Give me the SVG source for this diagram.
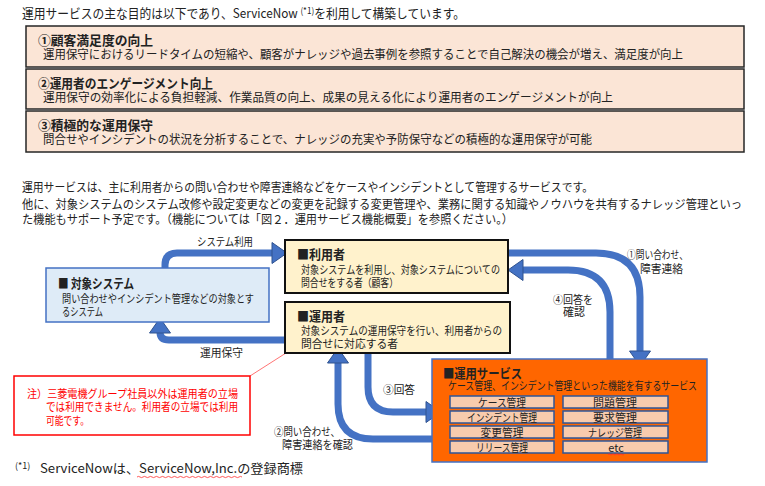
<svg xmlns="http://www.w3.org/2000/svg" width="765" height="486" viewBox="0 0 765 486">
<style>
text{font-family:"Noto Sans CJK JP","Noto Sans",sans-serif;fill:#222}
.t13{font-size:13px}
.t12{font-size:12px}
.t11{font-size:11px}
.b{font-weight:bold}
.goal{fill:#FBE5D6;stroke:#262626;stroke-width:1.5}
.person{fill:#FFF2CC;stroke:#111;stroke-width:2}
.sys{fill:#DEEBF7;stroke:#4472C4;stroke-width:1.5}
.svc{fill:#FF6600;stroke:#4472C4;stroke-width:1.5}
.cell{fill:#F8CBAD;stroke:#2F5597;stroke-width:1.5}
.note{fill:#fff;stroke:#FF0000;stroke-width:1.5}
.red{fill:#FF0000}
.conn{fill:none;stroke:#4472C4;stroke-width:7;marker-end:url(#ah)}
.wave{fill:none;stroke:#FF3030;stroke-width:0.8}
.c{text-anchor:middle}
</style>
<defs>
<marker id="ah" markerUnits="userSpaceOnUse" orient="auto" refX="0" refY="0" markerWidth="20" markerHeight="26" overflow="visible">
<path d="M-1,-10.5 L14,0 L-1,10.5 Z" fill="#4472C4" stroke="#2F528F" stroke-width="1"/>
</marker>
</defs>

<g id="intro">
<text class="t13" x="22" y="18" textLength="443" lengthAdjust="spacingAndGlyphs">運用サービスの主な目的は以下であり、ServiceNow <tspan dy="-4" style="font-size:9px">(*1)</tspan><tspan dy="4">を利用して構築しています。</tspan></text>
</g>

<g id="goal1">
<rect class="goal" x="26" y="26" width="718" height="41"/>
<text class="t13 b" x="38" y="45" textLength="115" lengthAdjust="spacingAndGlyphs">①顧客満足度の向上</text>
<text class="t12" x="43" y="58.5" textLength="640" lengthAdjust="spacingAndGlyphs">運用保守におけるリードタイムの短縮や、顧客がナレッジや過去事例を参照することで自己解決の機会が増え、満足度が向上</text>
</g>
<g id="goal2">
<rect class="goal" x="26" y="69" width="718" height="40"/>
<text class="t13 b" x="38" y="87.5" textLength="175" lengthAdjust="spacingAndGlyphs">②運用者のエンゲージメント向上</text>
<text class="t12" x="43" y="101.5" textLength="570" lengthAdjust="spacingAndGlyphs">運用保守の効率化による負担軽減、作業品質の向上、成果の見える化により運用者のエンゲージメントが向上</text>
</g>
<g id="goal3">
<rect class="goal" x="26" y="111" width="718" height="41"/>
<text class="t13 b" x="38" y="130" textLength="115" lengthAdjust="spacingAndGlyphs">③積極的な運用保守</text>
<text class="t12" x="43" y="144" textLength="549" lengthAdjust="spacingAndGlyphs">問合せやインシデントの状況を分析することで、ナレッジの充実や予防保守などの積極的な運用保守が可能</text>
</g>

<g id="paragraph">
<text class="t12" x="22" y="192" textLength="571" lengthAdjust="spacingAndGlyphs">運用サービスは、主に利用者からの問い合わせや障害連絡などをケースやインシデントとして管理するサービスです。</text>
<text class="t12" x="22" y="209" textLength="720" lengthAdjust="spacingAndGlyphs">他に、対象システムのシステム改修や設定変更などの変更を記録する変更管理や、業務に関する知識やノウハウを共有するナレッジ管理といっ</text>
<text class="t12" x="22" y="224" textLength="491" lengthAdjust="spacingAndGlyphs">た機能もサポート予定です。（機能については「図２．運用サービス機能概要」を参照ください。）</text>
</g>

<g id="connectors">
<path class="conn" d="M165,268 V265 Q165,253 177,253 H273"/>
<path class="conn" d="M285,340 H169 Q160,340 160,332"/>
<path class="conn" d="M508,253 H596 Q640,253 640,297 V352"/>
<path class="conn" d="M610,362 V312 Q610,270 568,270 H522"/>
<path class="conn" d="M368,353 V387 Q368,412 393,412 H427"/>
<path class="conn" d="M433,439 H373 Q338,439 338,404 V362"/>
<line x1="286" y1="353" x2="250" y2="376" stroke="#FF5050" stroke-width="0.8"/>
</g>

<g id="labels">
<text class="t11 c" x="225" y="246" textLength="56" lengthAdjust="spacingAndGlyphs">システム利用</text>
<text class="t11" x="200" y="357" textLength="43" lengthAdjust="spacingAndGlyphs">運用保守</text>
<text class="t11" x="627" y="259" textLength="61" lengthAdjust="spacingAndGlyphs">①問い合わせ、</text>
<text class="t11" x="640" y="273" textLength="43" lengthAdjust="spacingAndGlyphs">障害連絡</text>
<text class="t11" x="553" y="304" textLength="40" lengthAdjust="spacingAndGlyphs">④回答を</text>
<text class="t11" x="563" y="316" textLength="22" lengthAdjust="spacingAndGlyphs">確認</text>
<text class="t11" x="383" y="394" textLength="32" lengthAdjust="spacingAndGlyphs">③回答</text>
<text class="t11" x="274" y="436" textLength="66" lengthAdjust="spacingAndGlyphs">②問い合わせ、</text>
<text class="t11" x="282" y="449" textLength="71" lengthAdjust="spacingAndGlyphs">障害連絡を確認</text>
</g>

<g id="target-system">
<rect class="sys" x="46" y="268" width="223" height="54"/>
<text class="t13 b" x="58" y="288" textLength="76" lengthAdjust="spacingAndGlyphs">■ 対象システム</text>
<text class="t11" x="62" y="302.5" textLength="192" lengthAdjust="spacingAndGlyphs">問い合わせやインシデント管理などの対象とす</text>
<text class="t11" x="62" y="316" textLength="41" lengthAdjust="spacingAndGlyphs">るシステム</text>
</g>

<g id="user">
<rect class="person" x="285" y="240" width="223" height="53"/>
<text class="t13 b" x="297" y="259" textLength="48" lengthAdjust="spacingAndGlyphs">■利用者</text>
<text class="t11" x="301" y="273.5" textLength="199" lengthAdjust="spacingAndGlyphs">対象システムを利用し、対象システムについての</text>
<text class="t11" x="301" y="287" textLength="97" lengthAdjust="spacingAndGlyphs">問合せをする者（顧客）</text>
</g>

<g id="operator">
<rect class="person" x="285" y="302" width="225" height="51"/>
<text class="t13 b" x="297" y="321" textLength="48" lengthAdjust="spacingAndGlyphs">■運用者</text>
<text class="t11" x="301" y="334.5" textLength="201" lengthAdjust="spacingAndGlyphs">対象システムの運用保守を行い、利用者からの</text>
<text class="t11" x="301" y="347.5" textLength="97" lengthAdjust="spacingAndGlyphs">問合せに対応する者</text>
</g>

<g id="service">
<rect class="svc" x="432" y="359" width="275" height="103"/>
<text class="t13 b" x="443" y="377.5" textLength="79" lengthAdjust="spacingAndGlyphs">■運用サービス</text>
<text class="t11" x="448" y="390" textLength="249" lengthAdjust="spacingAndGlyphs">ケース管理、インシデント管理といった機能を有するサービス</text>
<rect class="cell" x="450" y="396" width="104" height="12"/>
<rect class="cell" x="563" y="396" width="105" height="12"/>
<rect class="cell" x="450" y="411" width="104" height="12"/>
<rect class="cell" x="563" y="411" width="105" height="12"/>
<rect class="cell" x="450" y="426" width="104" height="12"/>
<rect class="cell" x="563" y="426" width="105" height="12"/>
<rect class="cell" x="450" y="441" width="104" height="12"/>
<rect class="cell" x="563" y="441" width="105" height="12"/>
<text class="t11 c" x="502" y="406.5" textLength="48" lengthAdjust="spacingAndGlyphs">ケース管理</text>
<text class="t11 c" x="615" y="406.5" textLength="44" lengthAdjust="spacingAndGlyphs">問題管理</text>
<text class="t11 c" x="502" y="421.5" textLength="70" lengthAdjust="spacingAndGlyphs">インシデント管理</text>
<text class="t11 c" x="615" y="421.5" textLength="44" lengthAdjust="spacingAndGlyphs">要求管理</text>
<text class="t11 c" x="502" y="436.5" textLength="43" lengthAdjust="spacingAndGlyphs">変更管理</text>
<text class="t11 c" x="615" y="436.5" textLength="54" lengthAdjust="spacingAndGlyphs">ナレッジ管理</text>
<text class="t11 c" x="502" y="451.5" textLength="52" lengthAdjust="spacingAndGlyphs">リリース管理</text>
<text class="t11 c" x="616" y="451.5">etc</text>
<path class="wave" d="M608,454.5 q1,-1 2,0 t2,0 t2,0 t2,0 t2,0 t2,0 t2,0 t2,0"/>
</g>

<g id="note">
<rect class="note" x="14" y="376" width="236" height="59"/>
<text class="t11 red" x="27" y="397.5" textLength="211" lengthAdjust="spacingAndGlyphs">注）三菱電機グループ社員以外は運用者の立場</text>
<text class="t11 red" x="46" y="411" textLength="192" lengthAdjust="spacingAndGlyphs">では利用できません。利用者の立場では利用</text>
<text class="t11 red" x="46" y="424.5" textLength="43" lengthAdjust="spacingAndGlyphs">可能です。</text>
</g>

<g id="footnote">
<text x="15" y="469" style="font-size:9px">(*1)</text>
<text class="t13" x="40" y="473" textLength="263" lengthAdjust="spacingAndGlyphs">ServiceNowは、ServiceNow,Inc.の登録商標</text>
<path class="wave" d="M137,477 q1.5,-1.2 3,0 t3,0 t3,0 t3,0 t3,0 t3,0 t3,0 t3,0 t3,0 t3,0 t3,0 t3,0 t3,0 t3,0 t3,0 t3,0 t3,0 t3,0 t3,0 t3,0 t3,0 t3,0 t3,0 t3,0 t3,0 t3,0 t3,0 t3,0 t3,0 t3,0 t3,0 t3,0 t3,0 t3,0 t3,0"/>
</g>
</svg>
